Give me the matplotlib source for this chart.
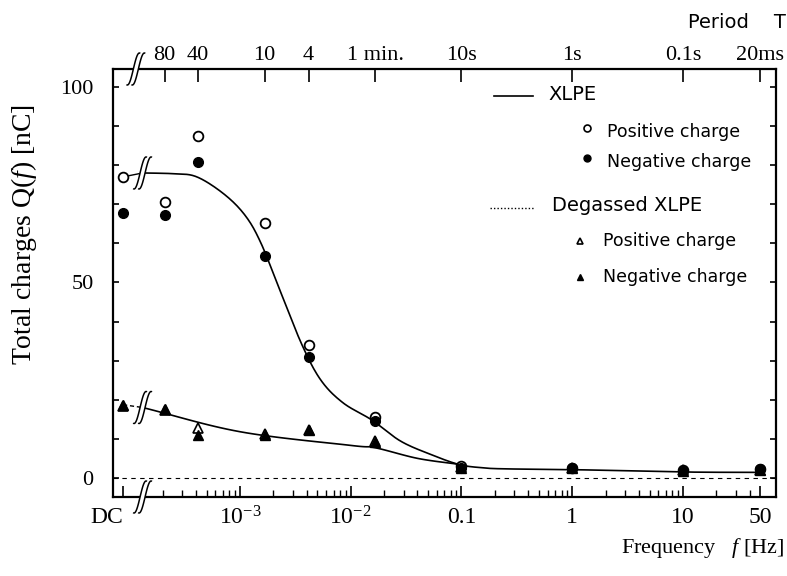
import numpy as np
import matplotlib
matplotlib.use("Agg")
import matplotlib.pyplot as plt
import matplotlib.transforms as mtransforms
from matplotlib.patches import PathPatch
from matplotlib.path import Path
from matplotlib.ticker import FixedLocator, MultipleLocator

plt.rcParams["font.family"] = ["Liberation Serif", "DejaVu Serif"]
plt.rcParams["mathtext.fontset"] = "custom"
plt.rcParams["mathtext.rm"] = "Liberation Serif"
plt.rcParams["mathtext.it"] = "Liberation Serif:italic"

# period of the applied voltage (top axis) -> frequency
period_labels = ["80", "40", "10", "4", "1 min.", "10s", "1s", "0.1s", "20ms"]
period_sec = [4800, 2400, 600, 240, 60, 10, 1, 0.1, 0.02]
freq = [1.0 / t for t in period_sec]

# total charges [nC], first value = DC
xlpe_pos = [77.0, 70.6, 87.5, 65.2, 34.0, 15.5, 3.0, 2.6, 2.0, 2.2]
xlpe_neg = [67.8, 67.3, 80.8, 56.8, 30.8, 14.5, 2.4, 2.6, 1.8, 2.2]
degas_pos = [18.5, 17.3, 12.8, 11.3, 12.2, 9.4, 2.8, 2.5, 2.0, 2.1]
degas_neg = [18.7, 17.6, 11.0, 11.0, 12.3, 9.2, 2.5, 2.5, 1.8, 2.0]

# fitted curves, log10(f) and Q
xlpe_fit_logf = [-3.88, -3.6, -3.39, -3.14, -2.95, -2.81, -2.64, -2.44, -2.27,
                 -2.07, -1.81, -1.55, -1.27, -1.02, -0.82, -0.61, 0.0, 1.0, 1.7]
xlpe_fit_q = [78.0, 77.8, 77.0, 72.5, 67.0, 60.0, 48.0, 34.0, 25.0,
              19.2, 14.8, 9.4, 5.9, 3.4, 2.6, 2.3, 2.1, 1.5, 1.4]
degas_fit_logf = [-3.88, -3.0, -2.0, -1.78, -1.4, -1.06, -1.0]
degas_fit_q = [18.0, 11.8, 8.3, 7.7, 5.0, 3.6, 3.4]

DC_F = 10 ** -4.056      # where DC is drawn on the log axis
BREAK_F = 10 ** -3.88    # axis break

x_pts = [DC_F] + freq


def smooth(lx, q, n=16):
    # catmull-rom through the read points, in roughly pixel-like units
    p = np.column_stack([np.array(lx) * 110.0, np.array(q) * 3.9])
    p = np.vstack([2 * p[0] - p[1], p, 2 * p[-1] - p[-2]])
    out = []
    t = np.linspace(0, 1, n, endpoint=False)[:, None]
    for i in range(1, len(p) - 2):
        p0, p1, p2, p3 = p[i - 1], p[i], p[i + 1], p[i + 2]
        out.append(0.5 * (2 * p1 + (-p0 + p2) * t + (2 * p0 - 5 * p1 + 4 * p2 - p3) * t ** 2
                          + (-p0 + 3 * p1 - 3 * p2 + p3) * t ** 3))
    out.append(p[-2][None])
    out = np.vstack(out)
    return 10 ** (out[:, 0] / 110.0), out[:, 1] / 3.9


def draw_break(ax, x, y, trans):
    t = np.linspace(-1.15, 1.15, 40)
    sx = 6 * t
    sy = 16 * np.sin(t * np.pi / 2)
    gap = 5
    left = np.column_stack([sx - gap / 2, sy])
    right = np.column_stack([sx + gap / 2, sy])
    tr = mtransforms.Affine2D() + mtransforms.ScaledTranslation(x, y, trans)
    fill = PathPatch(Path(np.vstack([left, right[::-1]])), fc="white", ec="none",
                     transform=tr, zorder=6, clip_on=False)
    ax.add_patch(fill)
    for s in (left, right):
        ax.add_patch(PathPatch(Path(s), fill=False, ec="black", lw=1.1,
                               transform=tr, zorder=7, clip_on=False))


fig = plt.figure(figsize=(7.87, 5.76), dpi=100)
ax = fig.add_axes([113 / 787, 1 - 497 / 576, 663 / 787, 428 / 576])

ax.set_xscale("log")
ax.set_xlim(10 ** -4.147, 10 ** 1.84)
ax.set_ylim(-4.9, 104.6)

# zero reference
ax.axhline(0, color="black", lw=0.8, ls=(0, (4, 4)))

# fitted curves
fx, fq = smooth(xlpe_fit_logf, xlpe_fit_q)
ax.plot(fx, fq, color="black", lw=1.2)
fx, fq = smooth(degas_fit_logf, degas_fit_q)
ax.plot(fx, fq, color="black", lw=1.2)
ax.plot([DC_F, BREAK_F], [xlpe_pos[0], xlpe_fit_q[0]], color="black", lw=1.0)
ax.plot([DC_F, BREAK_F], [degas_neg[0], degas_fit_q[0]], color="black", lw=1.0,
        ls=(0, (3, 2)))

# measured points
ax.plot(x_pts, degas_pos, ls="none", marker="^", ms=7.5, mfc="white", mec="black", mew=1.2)
ax.plot(x_pts, degas_neg, ls="none", marker="^", ms=7.5, mfc="black", mec="black")
ax.plot(x_pts, xlpe_pos, ls="none", marker="o", ms=7, mfc="white", mec="black", mew=1.3)
ax.plot(x_pts, xlpe_neg, ls="none", marker="o", ms=7, mfc="black", mec="black")

# axes styling
for sp in ax.spines.values():
    sp.set_linewidth(1.6)

ax.set_xticks([DC_F, 1e-3, 1e-2, 0.1, 1, 10, 50])
ax.set_xticklabels(["DC", "$10^{-3}$", "$10^{-2}$", "0.1", "1", "10", "50"])
minor = [m * 10.0 ** e for e in range(-4, 2) for m in range(2, 10)]
minor = [v for v in minor if 1.5e-4 < v < 60]
ax.xaxis.set_minor_locator(FixedLocator(minor))
ax.tick_params(axis="x", which="major", direction="in", length=8, width=1.2,
               labelsize=17, pad=7)
ax.tick_params(axis="x", which="minor", direction="in", length=5, width=1.0)
ax.get_xticklabels()[0].set_ha("right")

ax.set_yticks([0, 50, 100])
ax.set_yticklabels(["0", "50", "100"])
ax.yaxis.set_minor_locator(MultipleLocator(10))
ax.tick_params(axis="y", which="both", direction="in", length=4, width=1.2,
               labelsize=16, pad=14, right=True)

# top axis: period
ax2 = ax.twiny()
ax2.set_xscale("log")
ax2.set_xlim(ax.get_xlim())
ax2.set_xticks(freq)
ax2.set_xticklabels(period_labels)
ax2.xaxis.set_minor_locator(FixedLocator([]))
ax2.tick_params(axis="x", direction="in", length=9, width=1.2, labelsize=16, pad=3)
for sp in ax2.spines.values():
    sp.set_visible(False)

# axis breaks
blend = mtransforms.blended_transform_factory(ax.transData, ax.transAxes)
draw_break(ax, BREAK_F * 0.87, 1.0, blend)
draw_break(ax, BREAK_F, 0.0, blend)
draw_break(ax, BREAK_F, xlpe_fit_q[0], ax.transData)
draw_break(ax, BREAK_F, degas_fit_q[0], ax.transData)

# labels
fig.text(24 / 787, 1 - 234 / 576, "Total charges Q($\\it{f}$) [nC]", rotation=90,
         ha="center", va="center", fontsize=20)
fig.text(0.997, 1 - 548 / 576, "Frequency   $\\it{f}$ [Hz]", ha="right", va="center",
         fontsize=16)
fig.text(688 / 787, 1 - 22 / 576, "Period    T", ha="left", va="center",
         fontsize=14, family="DejaVu Sans")

# legend
lf = dict(family="DejaVu Sans", va="baseline", transform=ax.transAxes)
ax.plot([0.574, 0.634], [0.937, 0.937], color="black", lw=1.2, transform=ax.transAxes)
ax.text(0.656, 0.928, "XLPE", fontsize=14, **lf)
ax.plot([0.715], [0.862], marker="o", ms=5, mfc="white", mec="black", mew=1.2,
        transform=ax.transAxes)
ax.text(0.745, 0.841, "Positive charge", fontsize=12.5, **lf)
ax.plot([0.715], [0.792], marker="o", ms=5, mfc="black", mec="black",
        transform=ax.transAxes)
ax.text(0.745, 0.771, "Negative charge", fontsize=12.5, **lf)
ax.plot([0.569, 0.637], [0.675, 0.675], color="black", lw=1.0, ls=(0, (1, 1.5)),
        transform=ax.transAxes)
ax.text(0.662, 0.668, "Degassed XLPE", fontsize=14, **lf)
ax.plot([0.704], [0.597], marker="^", ms=5, mfc="white", mec="black", mew=1.2,
        transform=ax.transAxes)
ax.text(0.739, 0.586, "Positive charge", fontsize=12.5, **lf)
ax.plot([0.704], [0.513], marker="^", ms=5, mfc="black", mec="black",
        transform=ax.transAxes)
ax.text(0.739, 0.502, "Negative charge", fontsize=12.5, **lf)

fig.savefig("out.png", dpi=100)
